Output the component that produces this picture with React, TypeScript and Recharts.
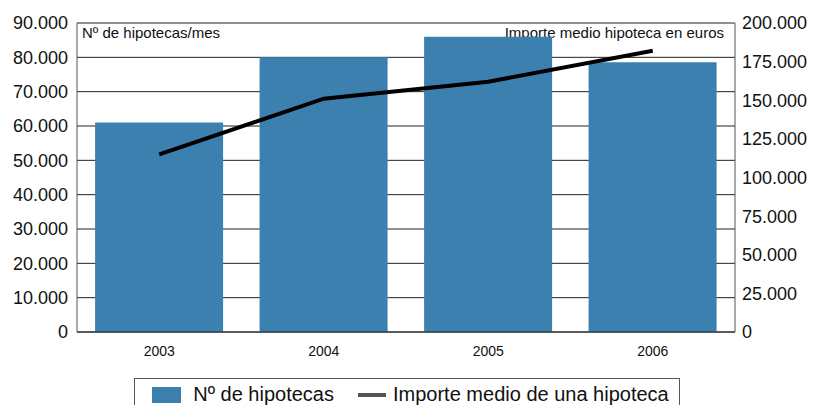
import React from "react";
import {
  ComposedChart,
  Bar,
  Line,
  XAxis,
  YAxis,
  CartesianGrid,
  Legend,
  Customized,
} from "recharts";

const years = ["2003", "2004", "2005", "2006"];
const hipotecas = [61000, 80000, 86000, 78600];
const importeMedio = [115000, 151000, 162000, 182000];
const leftTicks = [0, 10000, 20000, 30000, 40000, 50000, 60000, 70000, 80000, 90000];
const rightTicks = [0, 25000, 50000, 75000, 100000, 125000, 150000, 175000, 200000];

const data = years.map((year, i) => ({
  year,
  hipotecas: hipotecas[i],
  importe: importeMedio[i],
}));

const FONT = "'Liberation Sans', Arial, Helvetica, sans-serif";
const BLUE = "#3c80af";

const fmt = (v: number) => String(v).replace(/\B(?=(\d{3})+(?!\d))/g, ".");

const LegendBox = () => (
  <div style={{ height: 33, display: "flex", justifyContent: "center", fontFamily: FONT }}>
    <div
      style={{
        marginTop: 6,
        border: "1px solid #555",
        borderBottom: "none",
        height: 27,
        padding: "2px 10px 0 17px",
        display: "flex",
        alignItems: "center",
        fontSize: 20,
        color: "#111",
      }}
    >
      <span style={{ width: 29, height: 16, background: BLUE, display: "inline-block", marginRight: 12 }} />
      <span style={{ marginRight: 24 }}>Nº de hipotecas</span>
      <span style={{ width: 28, height: 4, background: "#555", display: "inline-block", marginRight: 7 }} />
      <span>Importe medio de una hipoteca</span>
    </div>
  </div>
);

const InnerTitles = () => (
  <g fontFamily={FONT} fontSize={15} fill="#111">
    <text x={82} y={38}>Nº de hipotecas/mes</text>
    <text x={724} y={38} textAnchor="end">Importe medio hipoteca en euros</text>
  </g>
);

export default function App() {
  return (
    <div style={{ position: "absolute", left: 0, top: 0, background: "#fff" }}>
      <ComposedChart
        width={814}
        height={405}
        data={data}
        margin={{ top: 23, right: 0, bottom: 0, left: 0 }}
        barCategoryGap="11%"
      >
        <CartesianGrid yAxisId="left" vertical={false} stroke="#222" />
        <XAxis
          dataKey="year"
          height={40}
          tickLine={false}
          axisLine={{ stroke: "#222" }}
          tickMargin={8}
          tick={{ fontSize: 14, fill: "#111", fontFamily: FONT }}
        />
        <YAxis
          yAxisId="left"
          width={77}
          domain={[0, 90000]}
          ticks={leftTicks}
          tickFormatter={fmt}
          tickLine={false}
          tickSize={0}
          tickMargin={9}
          axisLine={{ stroke: "#555" }}
          tick={{ fontSize: 18, fill: "#111", fontFamily: FONT }}
          interval={0}
        />
        <YAxis
          yAxisId="right"
          orientation="right"
          width={79}
          domain={[0, 200000]}
          ticks={rightTicks}
          tickFormatter={fmt}
          tickLine={false}
          tickSize={0}
          tickMargin={7}
          axisLine={{ stroke: "#555" }}
          tick={{ fontSize: 18, fill: "#111", fontFamily: FONT }}
          interval={0}
        />
        <Bar yAxisId="left" dataKey="hipotecas" fill={BLUE} isAnimationActive={false} />
        <Line
          yAxisId="right"
          dataKey="importe"
          stroke="#000"
          strokeWidth={4}
          dot={false}
          type="linear"
          isAnimationActive={false}
        />
        <Customized component={InnerTitles} />
        <Legend verticalAlign="bottom" content={<LegendBox />} />
      </ComposedChart>
    </div>
  );
}
